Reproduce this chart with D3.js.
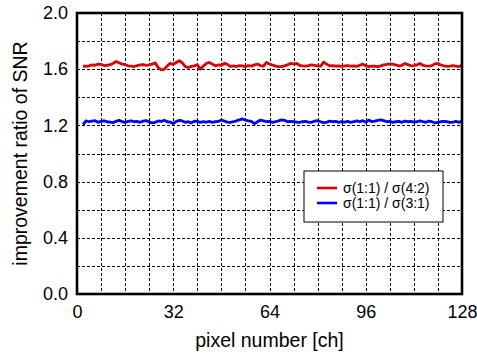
<!DOCTYPE html>
<html>
<head>
<meta charset="utf-8">
<script src="https://cdn.jsdelivr.net/npm/d3@7"></script>
<style>
  body { margin: 0; background: #fff; }
  text { font-family: "Liberation Sans", Arial, sans-serif; fill: #000; }
</style>
</head>
<body>
<div id="chart"></div>
<script>
// channels 2..128
var channels = d3.range(2, 129);

// sigma(1:1) / sigma(4:2)
var ratio42 = [
  1.622, 1.621, 1.624, 1.630, 1.628, 1.636, 1.634, 1.626, 1.628, 1.633,
  1.641, 1.655, 1.646, 1.636, 1.633, 1.624, 1.622, 1.619, 1.626, 1.630,
  1.632, 1.628, 1.631, 1.636, 1.645, 1.612, 1.596, 1.598, 1.624, 1.641,
  1.635, 1.648, 1.660, 1.646, 1.618, 1.612, 1.620, 1.624, 1.632, 1.600,
  1.622, 1.641, 1.648, 1.636, 1.624, 1.630, 1.628, 1.641, 1.634, 1.620,
  1.624, 1.619, 1.626, 1.624, 1.618, 1.626, 1.622, 1.631, 1.636, 1.626,
  1.622, 1.648, 1.636, 1.630, 1.622, 1.619, 1.618, 1.624, 1.631, 1.641,
  1.638, 1.641, 1.628, 1.624, 1.622, 1.626, 1.631, 1.628, 1.624, 1.622,
  1.650, 1.636, 1.624, 1.626, 1.622, 1.624, 1.620, 1.624, 1.626, 1.622,
  1.624, 1.620, 1.628, 1.636, 1.624, 1.619, 1.621, 1.622, 1.618, 1.624,
  1.631, 1.634, 1.638, 1.636, 1.630, 1.624, 1.628, 1.641, 1.633, 1.624,
  1.626, 1.630, 1.641, 1.628, 1.624, 1.622, 1.626, 1.638, 1.641, 1.630,
  1.624, 1.620, 1.622, 1.626, 1.622, 1.618, 1.631
];

// sigma(1:1) / sigma(3:1)
var ratio31 = [
  1.205, 1.232, 1.226, 1.230, 1.234, 1.222, 1.228, 1.233, 1.226, 1.224,
  1.220, 1.229, 1.236, 1.226, 1.222, 1.228, 1.233, 1.226, 1.228, 1.222,
  1.230, 1.234, 1.224, 1.218, 1.222, 1.232, 1.228, 1.236, 1.226, 1.224,
  1.212, 1.228, 1.236, 1.232, 1.222, 1.226, 1.218, 1.230, 1.228, 1.222,
  1.226, 1.224, 1.228, 1.222, 1.226, 1.228, 1.238, 1.230, 1.224, 1.222,
  1.226, 1.232, 1.240, 1.246, 1.238, 1.232, 1.228, 1.212, 1.226, 1.238,
  1.232, 1.226, 1.228, 1.222, 1.226, 1.232, 1.240, 1.236, 1.226, 1.228,
  1.226, 1.224, 1.222, 1.226, 1.228, 1.224, 1.222, 1.230, 1.234, 1.226,
  1.220, 1.222, 1.230, 1.226, 1.228, 1.222, 1.226, 1.224, 1.228, 1.222,
  1.226, 1.232, 1.226, 1.234, 1.222, 1.238, 1.226, 1.230, 1.236, 1.240,
  1.234, 1.226, 1.228, 1.222, 1.226, 1.228, 1.222, 1.230, 1.226, 1.228,
  1.224, 1.226, 1.232, 1.226, 1.222, 1.230, 1.226, 1.218, 1.222, 1.226,
  1.228, 1.226, 1.222, 1.224, 1.228, 1.222, 1.230
];

var seriesNames = ["σ(1:1) / σ(4:2)", "σ(1:1) / σ(3:1)"];
var seriesColors = ["#dd0000", "#0000ff"];

var xTicks = [0, 32, 64, 96, 128];
var yTicks = [0.0, 0.4, 0.8, 1.2, 1.6, 2.0];

// dimensions
var W = 477, H = 354;
var margin = {top: 13, right: 15, bottom: 60, left: 77},
  width = W - margin.left - margin.right,
  height = H - margin.top - margin.bottom;

var svg = d3.select("#chart")
  .append("svg")
  .attr("width", W)
  .attr("height", H)
  .append("g")
  .attr("transform", "translate(" + margin.left + "," + margin.top + ")");

var x = d3.scaleLinear().domain([0, 128]).range([0, width]);
var y = d3.scaleLinear().domain([0, 2]).range([height, 0]);

// dashed grid
svg.append("g")
  .selectAll("line")
  .data(d3.range(8, 128, 8))
  .join("line")
  .attr("x1", function(d) { return Math.round(x(d)) + 0.5; })
  .attr("x2", function(d) { return Math.round(x(d)) + 0.5; })
  .attr("y1", 0).attr("y2", height)
  .attr("stroke", "#000").attr("stroke-width", 1)
  .attr("stroke-dasharray", "3,2");

svg.append("g")
  .selectAll("line")
  .data(d3.range(1, 10).map(function(i) { return i * 0.2; }))
  .join("line")
  .attr("y1", function(d) { return Math.round(y(d)) + 0.5; })
  .attr("y2", function(d) { return Math.round(y(d)) + 0.5; })
  .attr("x1", 0).attr("x2", width)
  .attr("stroke", "#000").attr("stroke-width", 1)
  .attr("stroke-dasharray", "3,2");

// data lines
var line = d3.line()
  .x(function(d, i) { return x(channels[i]); })
  .y(function(d) { return y(d); });

[ratio42, ratio31].forEach(function(s, k) {
  svg.append("path")
    .datum(s)
    .attr("d", line)
    .attr("fill", "none")
    .attr("stroke", seriesColors[k])
    .attr("stroke-width", 2.8)
    .attr("stroke-linejoin", "round");
});

// axes (labels only, frame drawn separately)
var xAxis = svg.append("g")
  .attr("transform", "translate(0," + height + ")")
  .call(d3.axisBottom(x).tickValues(xTicks).tickSize(0).tickPadding(11));
var yAxis = svg.append("g")
  .call(d3.axisLeft(y).tickValues(yTicks).tickFormat(d3.format(".1f")).tickSize(0).tickPadding(9));
[xAxis, yAxis].forEach(function(a) {
  a.select(".domain").remove();
  a.selectAll("text").style("font-size", "18px").style("font-family", "Liberation Sans, Arial, sans-serif");
});

// frame
svg.append("rect")
  .attr("x", 0).attr("y", 0)
  .attr("width", width).attr("height", height)
  .attr("fill", "none")
  .attr("stroke", "#000")
  .attr("stroke-width", 2.6);

// axis titles
svg.append("text")
  .attr("x", width / 2)
  .attr("y", height + 53)
  .attr("text-anchor", "middle")
  .style("font-size", "19.5px")
  .text("pixel number [ch]");

svg.append("text")
  .attr("transform", "translate(" + (-50) + "," + (height / 2) + ") rotate(-90)")
  .attr("text-anchor", "middle")
  .style("font-size", "19.5px")
  .text("improvement ratio of SNR");

// legend
var lg = svg.append("g")
  .attr("transform", "translate(" + (304 - margin.left) + "," + (171 - margin.top) + ")");
lg.append("rect")
  .attr("width", 139).attr("height", 51)
  .attr("fill", "#fff").attr("stroke", "#000").attr("stroke-width", 1);
seriesNames.forEach(function(n, k) {
  var yy = 17 + k * 15;
  lg.append("line")
    .attr("x1", 13).attr("x2", 33)
    .attr("y1", yy).attr("y2", yy)
    .attr("stroke", seriesColors[k]).attr("stroke-width", 2.6);
  lg.append("text")
    .attr("x", 39).attr("y", yy + 5)
    .style("font-size", "14px")
    .text(n);
});
</script>
</body>
</html>
